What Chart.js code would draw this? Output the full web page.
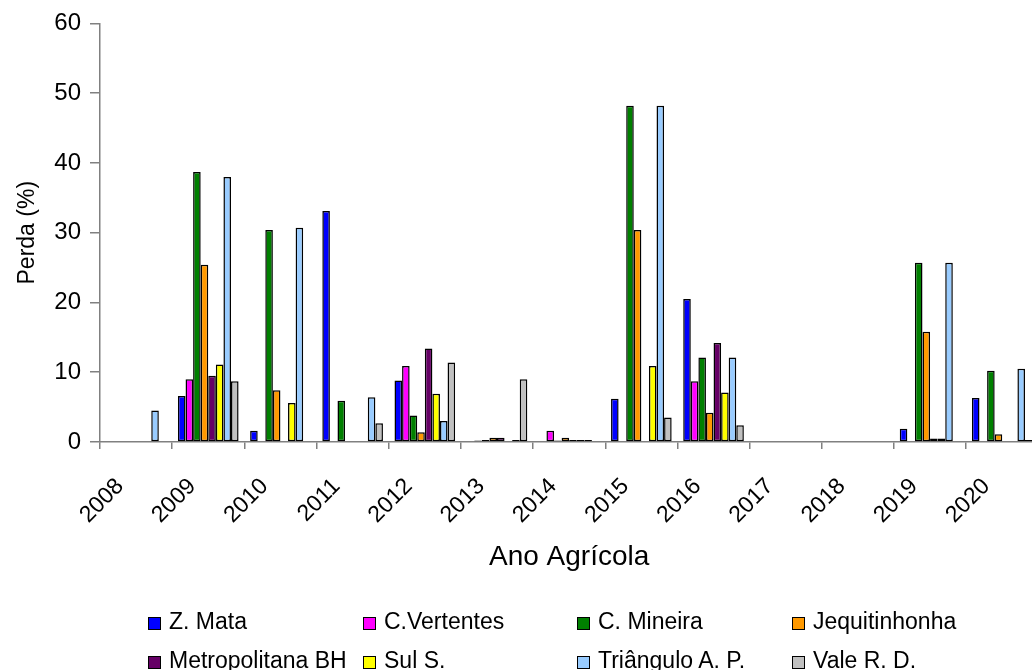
<!DOCTYPE html>
<html>
<head>
<meta charset="utf-8">
<script src="https://cdn.jsdelivr.net/npm/chart.js@4/dist/chart.umd.min.js"></script>
<style>
  html, body { margin: 0; padding: 0; background: #fff; overflow: hidden; width: 1032px; height: 670px; }
  #wrap { position: absolute; left: 0; top: 0; width: 1046px; height: 670px; }
  #legend { position: absolute; left: 148px; top: 602px; display: grid;
    grid-template-columns: 215px 214px 215px 220px; grid-auto-rows: 39px;
    font-family: 'Liberation Sans', Arial, sans-serif; font-size: 23px; color: #000; }
  .item { display: flex; align-items: center; white-space: nowrap; }
  .box { width: 11px; height: 11px; border: 1px solid #000; margin-right: 8px; margin-top: 3px; flex: none; }
</style>
</head>
<body>
<div id="wrap"><canvas id="c" width="1046" height="670"></canvas></div>
<div id="legend"></div>
<script>
const categories = ['2008','2009','2010','2011','2012','2013','2014','2015','2016','2017','2018','2019','2020'];
const seriesNames = ['Z. Mata','C.Vertentes','C. Mineira','Jequitinhonha','Metropolitana BH','Sul S.','Triângulo A. P.','Vale R. D.'];
const zMata         = [0, 6.6, 1.6, 33.1, 8.8, 0,   0,   6.2, 20.5, 0, 0, 1.9, 6.3];
const cVertentes    = [0, 9.0, 0,   0,   10.9, 0.2, 1.6, 0,   8.7,  0, 0, 0,   0];
const cMineira      = [0, 38.7, 30.4, 5.9, 3.8, 0.3, 0.2, 48.2, 12.1, 0, 0, 25.7, 10.2];
const jequitinhonha = [0, 25.4, 7.4, 0,   1.4, 0.6, 0.6, 30.4, 4.2, 0, 0, 15.8, 1.1];
const metropolitana = [0, 9.5, 0,   0,   13.4, 0.6, 0.3, 0,   14.2, 0, 0, 0.5, 0];
const sulS          = [0, 11.1, 5.6, 0,  6.9, 0,   0.3, 10.9, 7.1, 0, 0, 0.5, 0];
const triangulo     = [4.5, 38.0, 30.7, 6.4, 3.0, 0.3, 0.3, 48.2, 12.1, 0, 0, 25.7, 10.5];
const valeRD        = [0, 8.7, 0,   2.7, 11.4, 9.0, 0,   3.5, 2.4, 0, 0, 0,   0.3];
const yTicks = [0, 10, 20, 30, 40, 50, 60];

const seriesValues = [zMata, cVertentes, cMineira, jequitinhonha, metropolitana, sulS, triangulo, valeRD];
const seriesColors = ['#0000FF','#FF00FF','#008000','#FF9900','#660066','#FFFF00','#99CCFF','#C0C0C0'];

const FONT = "'Liberation Sans', Arial, sans-serif";

new Chart(document.getElementById('c'), {
  type: 'bar',
  data: {
    labels: categories,
    datasets: seriesNames.map((n, i) => ({
      label: n,
      data: seriesValues[i],
      backgroundColor: seriesColors[i],
      borderColor: '#000',
      borderWidth: 1.5,
      borderSkipped: false,
      categoryPercentage: 0.84,
      barPercentage: 1.0
    }))
  },
  options: {
    responsive: false,
    animation: false,
    devicePixelRatio: 1,
    layout: { padding: { top: 12, right: 6, bottom: 88, left: 0 } },
    plugins: { legend: { display: false }, tooltip: { enabled: false } },
    scales: {
      x: {
        grid: { display: true, drawOnChartArea: false, offset: true, color: '#808080', tickLength: 7, lineWidth: 1.5 },
        border: { color: '#808080', width: 1.5 },
        ticks: { color: '#000', font: { family: FONT, size: 23 }, minRotation: 45, maxRotation: 45, autoSkip: false, padding: 24, labelOffset: -16 },
        title: { display: true, text: 'Ano Agrícola', color: '#000', font: { family: FONT, size: 28 }, padding: { top: 0, bottom: 8 } },
        afterFit: s => { s.height = 140; }
      },
      y: {
        min: 0, max: 60,
        afterBuildTicks: s => { s.ticks = yTicks.map(v => ({ value: v })); },
        grid: { display: true, drawOnChartArea: false, color: '#808080', tickLength: 10, lineWidth: 1.5 },
        border: { color: '#808080', width: 1.5 },
        ticks: { color: '#000', font: { family: FONT, size: 24 }, padding: 9 },
        title: { display: true, text: 'Perda (%)', color: '#000', font: { family: FONT, size: 23 }, padding: { top: 14, bottom: 0 } },
        afterFit: s => { s.width = 100; }
      }
    }
  }
});

const legend = document.getElementById('legend');
seriesNames.forEach((n, i) => {
  const it = document.createElement('div');
  it.className = 'item';
  const b = document.createElement('span');
  b.className = 'box';
  b.style.background = seriesColors[i];
  const t = document.createElement('span');
  t.textContent = n;
  it.appendChild(b); it.appendChild(t);
  legend.appendChild(it);
});
</script>
</body>
</html>
